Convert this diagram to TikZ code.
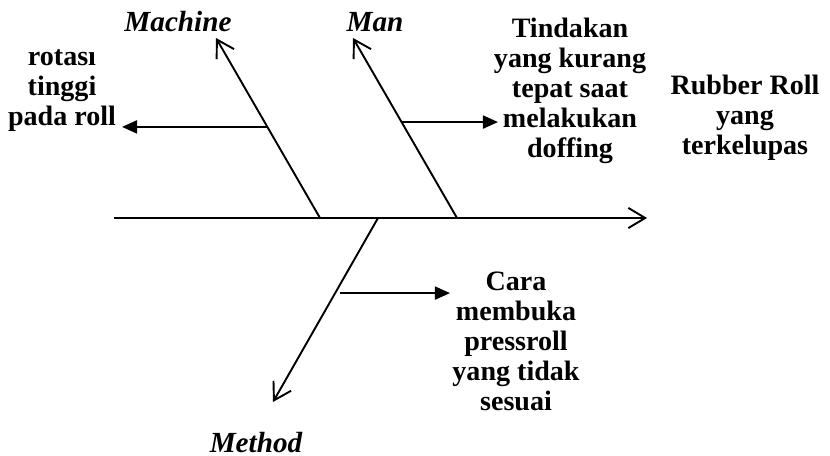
\documentclass[tikz,border=0pt]{standalone}
\usepackage{fontspec}
\setmainfont{Liberation Serif}
\usetikzlibrary{arrows.meta,calc}

\begin{document}
\begin{tikzpicture}[x=0.4454pt,y=-0.4454pt,line width=0.85pt,
        bone/.style={-{Straight Barb[length=7.5pt,width=9pt]}},
        cause/.style={-{Triangle[length=6.7pt,width=5.8pt]}},
        txt/.style={font=\bfseries\fontsize{12.5}{13.4}\selectfont,align=center,inner sep=0pt,anchor=north},
        cat/.style={font=\bfseries\itshape\fontsize{13}{14}\selectfont,inner sep=0pt,anchor=base}]
    \useasboundingbox (0,0) rectangle (830,455);
    % spine and the three bones
    \coordinate (tail) at (114,218);
    \coordinate (head) at (647,218);
    \coordinate (mcB) at (320,218);  \coordinate (mcT) at (216,38);
    \coordinate (mnB) at (457,218);  \coordinate (mnT) at (353,38);
    \coordinate (mtB) at (378,218);  \coordinate (mtT) at (273,402);
    \draw[bone] (tail)--(head);
    \draw[bone] (mcB)--(mcT);
    \draw[bone] (mnB)--(mnT);
    \draw[bone] (mtB)--(mtT);
    % category labels
    \node[cat] (machine) at (178,32) {Machine};
    \node[cat] (man) at (375,32) {Man};
    \node[cat] (method) at (256,452) {Method};
    % causes
    \node[txt] (rotasi) at (62,49) {rotası\\tinggi\\pada roll};
    \node[txt] (tindakan) at (570,17) {Tindakan\\yang kurang\\tepat saat\\melakukan\\doffing};
    \node[txt] (cara) at (516,271) {Cara\\membuka\\pressroll\\yang tidak\\sesuai};
    \node[txt] (effect) at (745,74) {Rubber Roll\\yang\\terkelupas};
    \coordinate (mcS) at ($(mcB)!0.506!(mcT)$);
    \coordinate (mnS) at ($(mnB)!0.533!(mnT)$);
    \coordinate (mtS) at ($(mtB)!0.408!(mtT)$);
    \coordinate (mcE) at (122,127 |- mcS);
    \coordinate (mnE) at (498,0 |- mnS);
    \coordinate (mtE) at (450,0 |- mtS);
    \draw[cause] (mcS)--(mcE);
    \draw[cause] (mnS)--(mnE);
    \draw[cause] ([xshift=2pt]mtS)--(mtE);
\end{tikzpicture}
\end{document}
